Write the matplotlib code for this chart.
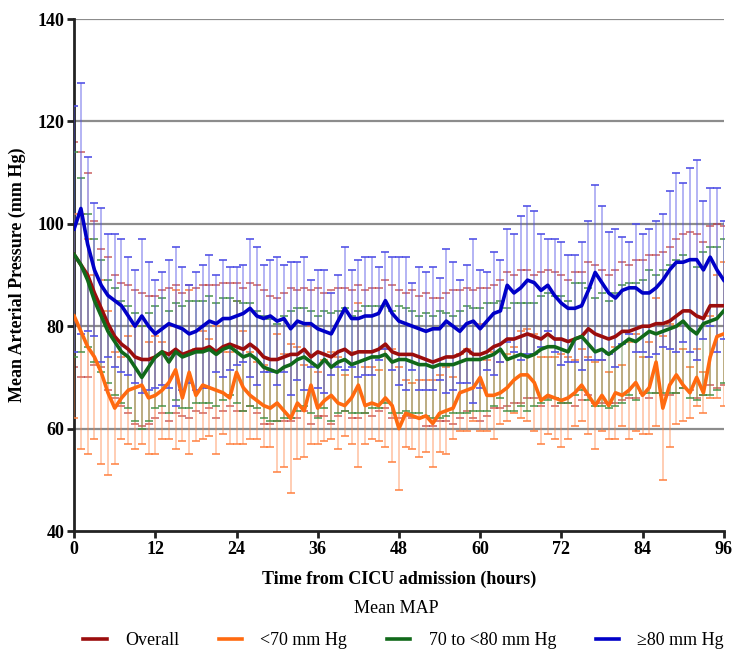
import matplotlib
matplotlib.use('Agg')
import matplotlib.pyplot as plt
import numpy as np
from matplotlib.lines import Line2D

plt.rcParams['font.family'] = ['Liberation Serif', 'DejaVu Serif']

hours = list(range(0, 97))

# mean MAP by group (mm Hg)
overall_mean = [94, 92, 90, 86.5, 83.5, 80.5, 78, 76.5, 75.5, 74,
                73.5, 73.5, 74, 75, 74.5, 75.5, 74.5, 75, 75.5, 75.5,
                76, 75, 76, 76.5, 76, 75.5, 76.5, 75.5, 74, 73.5,
                73.5, 74, 74.5, 74.5, 75.5, 74, 75, 74.5, 74, 75,
                75.5, 74.5, 75, 75, 75, 75.5, 76.5, 75, 74.5, 74.5,
                74.5, 74, 73.5, 73, 73.5, 74, 74, 74.5, 75.5, 74.5,
                74.5, 75, 76, 76.5, 77.5, 77.5, 78, 78.5, 78, 77.5,
                78.5, 77.5, 77.5, 77, 77.5, 78, 79.5, 78.5, 78, 77.5,
                78, 79, 79, 79.5, 80, 80, 80.5, 80.5, 81, 82,
                83, 83, 82, 81.5, 84, 84, 84]
overall_sd = [22, 22, 20, 14, 11.5, 13, 12, 12, 12.5, 13,
              13, 12.5, 12, 12, 13, 12.5, 12, 13, 12, 12.5,
              12, 13, 12.5, 12, 12.5, 12, 12, 12.5, 13, 12.5,
              12, 12.5, 13, 12.5, 12, 13, 12.5, 12, 13, 12.5,
              12, 12.5, 13, 12, 12.5, 12, 12.5, 13, 12.5, 12,
              12.5, 12, 13, 12.5, 12, 12.5, 13, 12.5, 12, 12.5,
              13, 12.5, 12, 12.5, 13, 12.5, 13, 12.5, 12, 13,
              12.5, 13, 12.5, 12, 13, 12.5, 13, 13.5, 13, 12.5,
              13, 13.5, 13, 13.5, 13, 14, 13.5, 14, 14.5, 15,
              15, 15.5, 16, 15, 15.5, 16, 15.5]

low_mean = [82, 79, 76, 74, 71, 67, 64, 66, 67.5, 68,
            68.5, 66, 66.5, 67.5, 69, 71.5, 66, 71, 66.5, 68.5,
            68, 67.5, 67, 66, 71, 68, 66.5, 65.5, 64.5, 64,
            65, 63.5, 62, 65, 63.5, 68.5, 64, 65.5, 66.5, 65,
            64.5, 66, 68.5, 64.5, 65, 64.5, 66, 64.5, 60, 63,
            62.5, 62, 62.5, 61, 63, 63.5, 64, 67, 67.5, 68,
            70, 66.5, 66.5, 67, 68, 69.5, 70.5, 70.5, 69, 65.5,
            66.5, 66, 65.5, 66, 67, 68.5, 66.5, 64.5, 66.5, 64.5,
            67, 66.5, 67.5, 69, 66.5, 68, 73, 64, 68.5, 70.5,
            68.5, 67, 70, 67, 74, 78, 78.5]
low_sd = [20, 23, 21, 16, 18, 16, 11, 8, 10.5, 12,
          11.5, 11, 11.5, 9.5, 11, 15.5, 8.5, 16, 9, 10.5,
          9.5, 12.5, 8, 9, 14, 11, 8.5, 7.5, 8, 7.5,
          13.5, 11, 14.5, 11, 9, 11.5, 7, 8, 8.5, 9,
          6, 9, 16, 7.5, 7, 7, 9.5, 11, 12, 6.5,
          6.5, 7.5, 7, 8.5, 7.5, 8.5, 6, 7.5, 8, 6.5,
          10.5, 7, 8.5, 6, 6.5, 6.5, 8.5, 9, 9.5, 8.5,
          7.5, 8, 9, 8, 6.5, 7, 7.5, 8.5, 7, 6.5,
          9, 6, 9.5, 9.5, 7.5, 9, 12.5, 14, 12, 9.5,
          7, 5, 5.5, 4, 8, 12, 14]

mid_mean = [94, 92, 89, 85, 82, 79, 77, 75, 74, 72,
            70, 72, 74, 75, 73, 75, 74, 74.5, 75, 75,
            75.5, 74.5, 75.5, 76, 75, 74, 74.5, 73.5, 72, 71.5,
            71, 72, 72.5, 73.5, 74, 73, 72, 73.5, 72, 73,
            73.5, 72.5, 73, 73.5, 74, 74, 74.5, 73, 73.5, 73.5,
            73, 72.5, 72.5, 72, 72.5, 72.5, 72.5, 73, 73.5, 73.5,
            73.5, 74, 74.5, 75.5, 73.5, 74, 74.5, 74, 74.5, 75.5,
            76, 76, 75.5, 75, 77.5, 78, 76.5, 75, 75.5, 74.5,
            75.5, 76.5, 77.5, 77, 78, 79, 78.5, 79, 79.5, 80,
            81, 79.5, 78.5, 80.5, 81, 81.5, 83]
mid_sd = [20, 17, 13, 12, 11, 10, 10.5, 10, 10, 10.5,
          10, 10.5, 10, 10.5, 10, 9.5, 10, 10.5, 10, 10,
          10.5, 10, 10, 9.5, 10, 10.5, 10, 9.5, 10, 10,
          9.5, 10, 10.5, 10, 9.5, 10, 10, 9.5, 10.5, 10,
          10, 9.5, 10, 10.5, 10, 10, 9.5, 10, 10.5, 10,
          10, 9.5, 10, 10, 10.5, 10, 9.5, 10, 10.5, 10,
          10, 10.5, 10, 9.5, 10, 10.5, 10, 10.5, 10, 10.5,
          10.5, 10, 10.5, 10, 11, 10.5, 11, 10.5, 11, 10.5,
          11, 11.5, 11, 11.5, 11, 12, 11.5, 12, 12.5, 13,
          13, 13.5, 13, 14, 14.5, 14, 14]

high_mean = [99, 103, 96, 91, 88, 86, 85, 84, 82, 80,
             82, 80, 78.5, 79.5, 80.5, 80, 79.5, 78.5, 79, 80,
             81, 80.5, 81.5, 81.5, 82, 82.5, 83.5, 82, 81.5, 82,
             81, 81.5, 79.5, 81, 80.5, 80.5, 79.5, 79, 78.5, 81,
             83.5, 81.5, 81.5, 82, 82, 82.5, 85, 82.5, 81, 80.5,
             80, 79.5, 79, 79.5, 79.5, 81, 80, 79, 80.5, 81,
             79.5, 81, 82.5, 83, 88, 86.5, 87.5, 89, 88.5, 87,
             88, 86, 84.5, 83.5, 83.5, 84, 87, 90.5, 88.5, 86.5,
             85.5, 87, 87.5, 87.5, 86.5, 86.5, 87.5, 89, 91, 92.5,
             92.5, 93, 93, 91, 93.5, 91, 89]
high_sd = [24, 24.5, 17, 13, 15, 12, 13, 13, 11.5, 11,
           15, 12.5, 10.5, 11, 12.5, 15.5, 12, 9.5, 11.5, 12,
           13, 9.5, 11.5, 10, 9.5, 9.5, 13.5, 13.5, 10.5, 11,
           12.5, 10.5, 13, 11.5, 13, 8.5, 11.5, 12, 8, 9,
           12, 9.5, 11.5, 11.5, 11.5, 9, 9.5, 11, 12.5, 13,
           8.5, 12, 11.5, 12, 10, 14, 12.5, 10, 11.5, 16,
           11.5, 9.5, 12, 10, 11, 11.5, 14, 14.5, 14, 11,
           9, 11, 12, 10.5, 10.5, 12.5, 13.5, 17, 15, 12,
           13.5, 10.5, 9, 12.5, 11.5, 12.5, 13, 13, 15.5, 17.5,
           15.5, 18, 19.5, 13.5, 13.5, 16, 11.5]

# name, mean, sd, line colour, bar colour, bar alpha, cap alpha
series = [
    ('Overall', overall_mean, overall_sd, '#9b0d0d', '#c04040', 0.18, 0.7),
    ('<70 mm Hg', low_mean, low_sd, '#ff6a10', '#ff8040', 0.5, 0.85),
    ('70 to <80 mm Hg', mid_mean, mid_sd, '#11691a', '#3f8f3f', 0.42, 0.8),
    ('\u226580 mm Hg', high_mean, high_sd, '#0000c8', '#5050e6', 0.55, 0.9),
]

fig = plt.figure(figsize=(7.34, 6.56), dpi=100)
ax = fig.add_axes([0.101, 0.1905, 0.885, 0.7805])

# error bars first, then the mean lines on top
bar_z = {'Overall': 2, '<70 mm Hg': 3, '70 to <80 mm Hg': 4, '\u226580 mm Hg': 5}
for name, m, sd, col, ecol, ba, ca in series:
    _, caps, bars = ax.errorbar(hours, m, yerr=sd, fmt='none', ecolor=ecol,
                                elinewidth=1.1, capsize=3, capthick=1.3,
                                zorder=bar_z[name])
    for b in bars:
        b.set_alpha(ba)
    for c in caps:
        c.set_alpha(ca)

line_z = {'Overall': 10, '70 to <80 mm Hg': 11, '<70 mm Hg': 12, '\u226580 mm Hg': 13}
handles = []
for name, m, sd, col, ecol, ba, ca in series:
    ax.plot(hours, m, color=col, lw=2.6, zorder=line_z[name], solid_joinstyle='round')
    handles.append(Line2D([], [], color=col, lw=2.6))

ax.set_xlim(0, 96)
ax.set_ylim(40, 140)
ax.set_xticks(range(0, 97, 12))
ax.set_yticks(range(40, 141, 20))
for yv in range(60, 141, 20):
    ax.axhline(yv, color='#8c8c8c', lw=1.6, zorder=0)

for s in ['top', 'right']:
    ax.spines[s].set_visible(False)
for s in ['left', 'bottom']:
    ax.spines[s].set_linewidth(2)
    ax.spines[s].set_color('#222222')
ax.tick_params(axis='both', direction='out', length=5, width=2, color='#222222',
               labelsize=13, pad=2)
for lbl in ax.get_xticklabels() + ax.get_yticklabels():
    lbl.set_fontweight('bold')

ax.set_xlabel('Time from CICU admission (hours)', fontsize=13, fontweight='bold', labelpad=9)
ax.set_ylabel('Mean Arterial Pressure (mm Hg)', fontsize=13, fontweight='bold', labelpad=8)

fig.text(0.54, 0.073, 'Mean MAP', ha='center', va='center', fontsize=13)
fig.legend(handles, [s[0] for s in series], loc='center', bbox_to_anchor=(0.55, 0.023),
           ncol=4, frameon=False, fontsize=13, handlelength=1.3, columnspacing=2.2,
           handletextpad=1.0)

plt.savefig('out.png', dpi=100)
plt.close()
